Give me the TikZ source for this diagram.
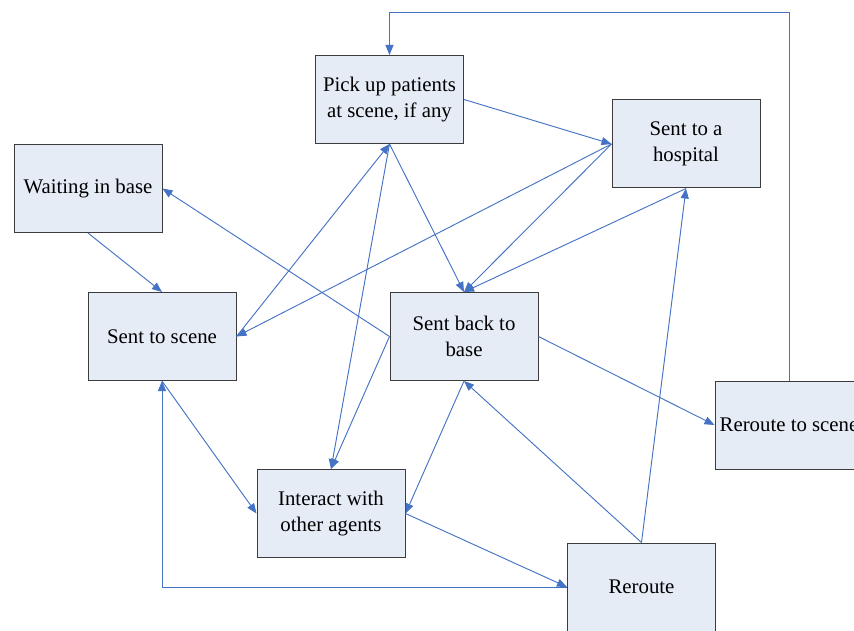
\documentclass[tikz,border=0pt]{standalone}
\usepackage{fontspec}
\setmainfont{Liberation Serif}
\usepackage{tikz}
\usetikzlibrary{arrows.meta}
\definecolor{lcol}{RGB}{68,114,196}
\definecolor{boxcol}{RGB}{230,236,246}
\definecolor{edgecol}{RGB}{60,60,60}

\begin{document}
\begin{tikzpicture}[x=0.75pt, y=-0.75pt,
  >={Triangle[length=7.5pt,width=6pt]},
  state/.style={draw=edgecol, line width=0.75pt, fill=boxcol, minimum width=111pt,
    minimum height=66pt, inner sep=0pt, align=center,
    font=\fontsize{15.6pt}{19.5pt}\selectfont},
  link/.style={lcol, line width=0.7pt}]
\useasboundingbox (0,0) rectangle (854,631);
\clip (0,0) rectangle (854,631);
\node[state] (pick) at (389.5,99.5) {Pick up patients\\at scene, if any};
\node[state] (hosp) at (686,144) {Sent to a\\hospital};
\node[state] (wait) at (88,188.5) {Waiting in base};
\node[state] (scene) at (162,336.5) {Sent to scene};
\node[state] (back) at (464,336.5) {Sent back to\\base};
\node[state] (rts) at (789,425) {Reroute to scene};
\node[state] (inter) at (331,513.5) {Interact with\\other agents};
\node[state] (rer) at (641.5,587) {Reroute};
\coordinate (top) at (0,12);
\draw[link,->] (rts.north) -- (rts.north |- top) -| (pick.north);
\draw[link,->] (pick.east) -- (hosp.west);
\draw[link,->] (hosp.west) -- (scene.east);
\draw[link,->] (hosp.west) -- (back.north);
\draw[link,->] (hosp.south) -- (back.north);
\draw[link,->] (pick.south) -- (back.north);
\draw[link,->] (scene.east) -- (pick.south);
\draw[link,->] (pick.south) -- (inter.north);
\draw[link,->] (back.west) -- (wait.east);
\draw[link,->] (back.west) -- (inter.north);
\draw[link,->] (wait.south) -- (scene.north);
\draw[link,->] (back.south) -- (inter.east);
\draw[link,->] (back.east) -- (rts.west);
\draw[link,->] (rer.north) -- (back.south);
\draw[link,->] (rer.north) -- (hosp.south);
\draw[link,->] (inter.east) -- (rer.west);
\draw[link,->] (rer.west) -| (scene.south);
\draw[link,->] (scene.south) -- (inter.west);
\end{tikzpicture}
\end{document}
